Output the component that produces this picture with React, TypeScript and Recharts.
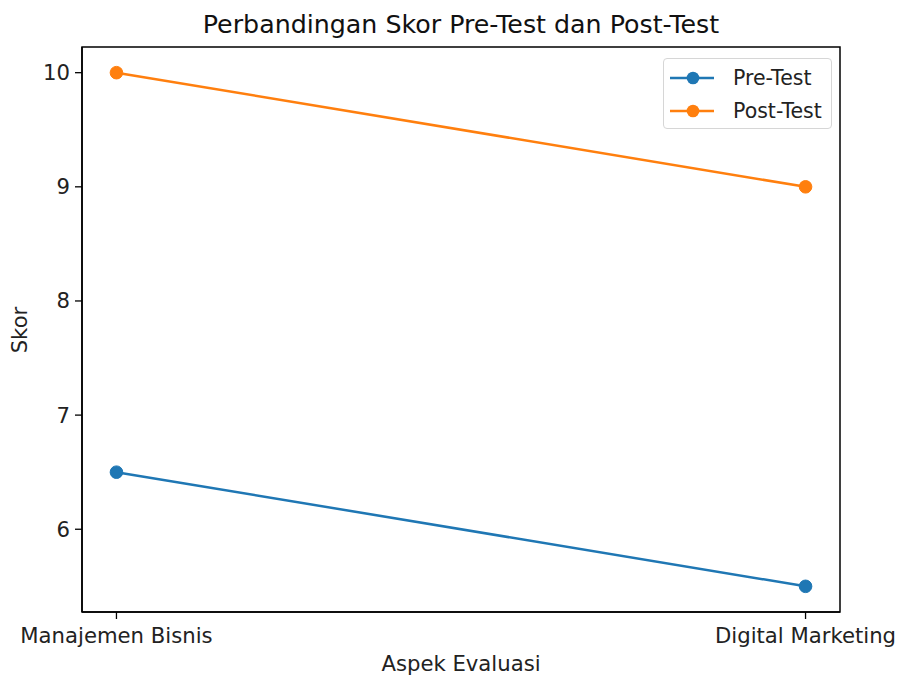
import React from 'react';
import {
    LineChart,
    Line,
    XAxis,
    YAxis,
    ReferenceArea,
} from 'recharts';

const categories = ['Manajemen Bisnis', 'Digital Marketing'];
const preTest = [6.5, 5.5];
const postTest = [10, 9];
const yTicks = [6, 7, 8, 9, 10];

const BLUE = '#1f77b4';
const ORANGE = '#ff7f0e';
const FONT = 'DejaVu Sans, sans-serif';
const TEXT = '#222';
const AXIS_FONT = 21.2;

// drop the default body margin so the figure sits at 0,0
if (typeof document !== 'undefined') document.body.style.margin = '0';

const data = categories.map((name, i) => ({
    idx: i,
    name,
    pre: preTest[i],
    post: postTest[i],
}));

const legendItems = [
    { label: 'Pre-Test', color: BLUE },
    { label: 'Post-Test', color: ORANGE },
];

// matplotlib-style legend box, placed over the upper right of the plot
const LegendBox = () => (
    <div style={{
        position: 'absolute',
        left: 663,
        top: 58,
        width: 167,
        height: 69,
        border: '1px solid #d6d6d6',
        borderRadius: 4,
        background: 'rgba(255,255,255,0.8)',
        fontFamily: FONT,
        fontSize: 20.5,
        color: TEXT,
        boxSizing: 'content-box',
    }}>
        {legendItems.map((it, i) => (
            <div key={it.label} style={{ position: 'absolute', left: 5, top: 4 + i * 33, height: 30, display: 'flex', alignItems: 'center' }}>
                <svg width={46} height={16} style={{ marginRight: 18 }}>
                    <line x1={1} y1={8} x2={45} y2={8} stroke={it.color} strokeWidth={2.5} />
                    <circle cx={24} cy={8} r={6.3} fill={it.color} />
                </svg>
                <span style={{ lineHeight: '30px' }}>{it.label}</span>
            </div>
        ))}
    </div>
);

const App: React.FC = () => {
    return (
        <div style={{ width: 899, height: 677, background: '#fff', position: 'relative' }}>
            <div style={{
                position: 'absolute', top: 10, left: 82, width: 758, textAlign: 'center',
                fontFamily: FONT, fontSize: 25.3, color: '#111', lineHeight: '30px',
            }}>
                Perbandingan Skor Pre-Test dan Post-Test
            </div>
            <LineChart
                width={899}
                height={677}
                data={data}
                margin={{ top: 47, right: 59, left: 32, bottom: 35 }}
            >
                <XAxis
                    dataKey="idx"
                    type="number"
                    domain={[-0.05, 1.05]}
                    ticks={[0, 1]}
                    tickFormatter={(v: number) => categories[v] ?? ''}
                    axisLine={{ stroke: '#000', strokeWidth: 1.5 }}
                    tickLine={{ stroke: '#000', strokeWidth: 1.3 }}
                    tickSize={7}
                    tickMargin={9}
                    height={30}
                    tick={{ fontSize: AXIS_FONT, fill: TEXT, fontFamily: FONT }}
                />
                <YAxis
                    type="number"
                    domain={[5.275, 10.225]}
                    ticks={yTicks}
                    allowDataOverflow
                    width={50}
                    axisLine={{ stroke: '#000', strokeWidth: 1.5 }}
                    tickLine={{ stroke: '#000', strokeWidth: 1.3 }}
                    tickSize={7}
                    tickMargin={5}
                    tick={{ fontSize: AXIS_FONT, fill: TEXT, fontFamily: FONT }}
                />
                <ReferenceArea
                    x1={-0.05}
                    x2={1.05}
                    y1={5.275}
                    y2={10.225}
                    fill="none"
                    stroke="#000"
                    strokeWidth={1.5}
                    ifOverflow="visible"
                />
                <Line
                    dataKey="pre"
                    name="Pre-Test"
                    stroke={BLUE}
                    strokeWidth={2.5}
                    dot={{ r: 6.3, fill: BLUE, stroke: BLUE, strokeWidth: 1 }}
                    isAnimationActive={false}
                />
                <Line
                    dataKey="post"
                    name="Post-Test"
                    stroke={ORANGE}
                    strokeWidth={2.5}
                    dot={{ r: 6.3, fill: ORANGE, stroke: ORANGE, strokeWidth: 1 }}
                    isAnimationActive={false}
                />
            </LineChart>
            <div style={{
                position: 'absolute', top: 651, left: 82, width: 758, textAlign: 'center',
                fontFamily: FONT, fontSize: AXIS_FONT, color: TEXT, lineHeight: '26px',
            }}>
                Aspek Evaluasi
            </div>
            <div style={{
                position: 'absolute', top: 317, left: -30, width: 100, height: 26, textAlign: 'center',
                fontFamily: FONT, fontSize: AXIS_FONT, color: TEXT, lineHeight: '26px',
                transform: 'rotate(-90deg)',
            }}>
                Skor
            </div>
            <LegendBox />
        </div>
    );
};

export default App;
